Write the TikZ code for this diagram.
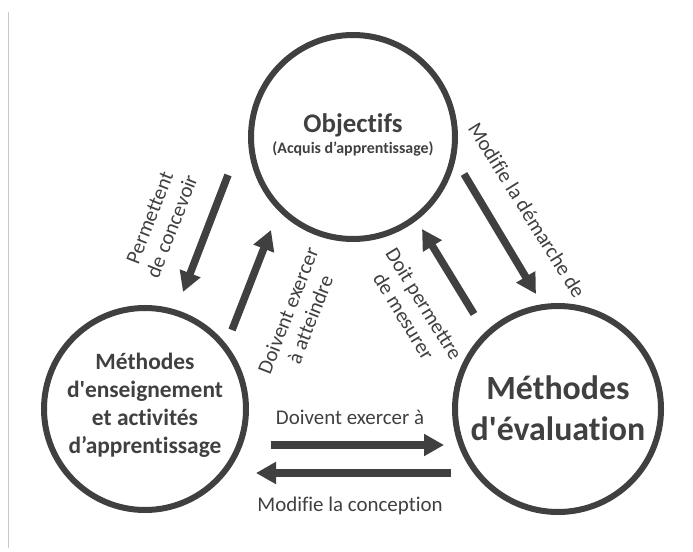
\documentclass[tikz,border=0pt]{standalone}
\usepackage{fontspec}
\setmainfont{Carlito}[Ligatures={TeX,NoCommon}]
\usetikzlibrary{arrows.meta}
\definecolor{dg}{HTML}{404040}
\definecolor{frameg}{HTML}{C8C8C8}
\begin{document}
\begin{tikzpicture}[x=1bp,y=-1bp,
  ring/.style={circle, draw=dg, line width=6bp, inner sep=0pt},
  conn/.style={draw=dg, line width=7.5bp, -{Triangle[width=21bp,length=20bp]}},
  intext/.style={text=dg, font=\bfseries, anchor=base, inner sep=0pt},
  lbl/.style={text=dg, align=center, inner sep=0pt, font=\fontsize{21}{24}\selectfont}]
\useasboundingbox (0,0) rectangle (693,552);
% thin frame line at the left
\coordinate (f1) at (8,12);
\coordinate (f2) at (8,548);
\draw[frameg, line width=0.8bp] (f1) -- (f2);

% circles
\node[ring, minimum size=204bp] (obj) at (353,137) {};
\node[ring, minimum size=202bp] (ens) at (145,409) {};
\node[ring, minimum size=206bp] (eva) at (558,409) {};

% texts inside circles
\node[intext, font=\bfseries\fontsize{27}{30}\selectfont] (t1) at (353,133) {Objectifs};
\node[intext, font=\bfseries\fontsize{16}{18}\selectfont] (t2) at (353,154) {(Acquis d’apprentissage)};

\node[intext, font=\bfseries\fontsize{23.5}{28}\selectfont] (e1) at (145,369) {Méthodes};
\node[intext, font=\bfseries\fontsize{23.5}{28}\selectfont] (e2) at (145,397) {d\textquotesingle enseignement};
\node[intext, font=\bfseries\fontsize{23.5}{28}\selectfont] (e3) at (145,425) {et activités};
\node[intext, font=\bfseries\fontsize{23.5}{28}\selectfont] (e4) at (145,453) {d’apprentissage};

\node[intext, font=\bfseries\fontsize{34}{40}\selectfont] (v1) at (558,399) {Méthodes};
\node[intext, font=\bfseries\fontsize{34}{40}\selectfont] (v2) at (558,440) {d\textquotesingle évaluation};

% arrow end points
\coordinate (a1s) at (228,175);
\coordinate (a1e) at (183,292);
\coordinate (a2s) at (232,330);
\coordinate (a2e) at (271,230);
\coordinate (a3s) at (474,314);
\coordinate (a3e) at (422,229);
\coordinate (a4s) at (464,174);
\coordinate (a4e) at (536,294);
\coordinate (a5s) at (271,445);
\coordinate (a5e) at (444,445);
\coordinate (a6s) at (451,473);
\coordinate (a6e) at (256,473);

\draw[conn] (a1s) -- (a1e);
\draw[conn] (a2s) -- (a2e);
\draw[conn] (a3s) -- (a3e);
\draw[conn] (a4s) -- (a4e);
\draw[conn] (a5s) -- (a5e);
\draw[conn] (a6s) -- (a6e);

% labels
\node[lbl, rotate=68.5] (l1) at (161,222) {Permettent\\de concevoir};
\node[lbl, rotate=68.5] (l2) at (299,315) {Doivent exercer\\à atteindre};
\node[lbl, rotate=-58.5] (l3) at (414,310) {Doit permettre\\de mesurer};
\node[lbl, rotate=-58] (l4) at (527,210) {Modifie la démarche de};
\node[lbl, anchor=base] (l5) at (350,424) {Doivent exercer à};
\node[lbl, anchor=base] (l6) at (350,511) {Modifie la conception};
\end{tikzpicture}
\end{document}
